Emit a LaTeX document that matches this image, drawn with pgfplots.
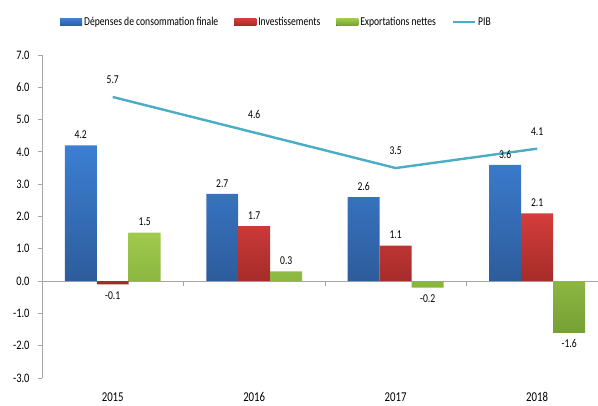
\documentclass[border=0pt]{standalone}
\usepackage{fontspec}
\setmainfont{Carlito}[FakeStretch=0.8]
\usepackage{pgfplots}
\pgfplotsset{compat=1.18}

\definecolor{bluetop}{HTML}{3C7FD3}
\definecolor{bluebot}{HTML}{2D5C9B}
\definecolor{redtop}{HTML}{D43D3A}
\definecolor{redbot}{HTML}{A22B29}
\definecolor{greentop}{HTML}{A0CB4C}
\definecolor{greenbot}{HTML}{76A035}
\definecolor{pib}{HTML}{4BACC6}
\definecolor{axgray}{HTML}{A6A6A6}

\begin{document}
\begin{tikzpicture}
\begin{axis}[
    scale only axis,
    width=556pt, height=323pt,
    at={(42pt,27pt)}, anchor=south west,
    xmin=-0.5, xmax=3.43,
    ymin=-3, ymax=7,
    axis y line*=left,
    axis x line*=bottom,
    x axis line style={draw=none},
    y axis line style={axgray, line width=0.8pt},
    ytick={-3,-2,...,7},
    xtick={0,1,2,3},
    xticklabels={2015,2016,2017,2018},
    xtick style={draw=none},
    ytick style={axgray, line width=0.8pt},
    tick align=outside,
    major tick length=4pt,
    /pgf/number format/assume math mode=true,
    yticklabel style={font=\fontsize{13}{15}\selectfont, xshift=-5pt, /pgf/number format/fixed, /pgf/number format/fixed zerofill, /pgf/number format/precision=1},
    xticklabel style={font=\fontsize{13.5}{15}\selectfont, text height=9pt, text depth=0pt, yshift=-7pt},
    clip=false,
    legend columns=4,
    legend style={draw=none, fill=none, at={(rel axis cs:0.027,1.102)}, anchor=west,
        font=\fontsize{12}{14}\selectfont,
        /tikz/every even column/.append style={column sep=14pt}},
    nodes near coords style={font=\fontsize{12}{14}\selectfont, black, text height=8pt, text depth=0pt,
        /pgf/number format/fixed, /pgf/number format/fixed zerofill, /pgf/number format/precision=1},
]
% zero line and category separators
\draw[axgray, line width=0.8pt] (axis cs:-0.5,0) -- (axis cs:3.43,0);
\pgfplotsinvokeforeach{0.5,1.5,2.5}{
  \draw[axgray, line width=0.8pt] (axis cs:#1,0) -- ([yshift=-4.5pt]axis cs:#1,0);
}

\addplot[ybar, bar width=0.226, bar shift=-0.226, draw=none,
    top color=bluetop, bottom color=bluebot,
    nodes near coords, nodes near coords align=vertical,
    every node near coord/.append style={inner sep=6.5pt, xshift=-32pt},
    legend image code/.code={\fill[top color=bluetop, bottom color=bluebot] (0pt,-3.5pt) rectangle (22pt,3.5pt);}]
  coordinates {(0,4.2) (1,2.7) (2,2.6) (3,3.6)};
\addlegendentry{Dépenses de consommation finale}

\addplot[ybar, bar width=0.226, bar shift=0, draw=none,
    top color=redtop, bottom color=redbot,
    nodes near coords, nodes near coords align=vertical,
    every node near coord/.append style={inner sep=6.5pt},
    legend image code/.code={\fill[top color=redtop, bottom color=redbot] (0pt,-3.5pt) rectangle (22pt,3.5pt);}]
  coordinates {(0,-0.1) (1,1.7) (2,1.1) (3,2.1)};
\addlegendentry{Investissements}

\addplot[ybar, bar width=0.226, bar shift=0.226, draw=none,
    top color=greentop, bottom color=greenbot,
    nodes near coords, nodes near coords align=vertical,
    every node near coord/.append style={inner sep=6.5pt, xshift=32pt},
    legend image code/.code={\fill[top color=greentop, bottom color=greenbot] (0pt,-3.5pt) rectangle (22pt,3.5pt);}]
  coordinates {(0,1.5) (1,0.3) (2,-0.2) (3,-1.6)};
\addlegendentry{Exportations nettes}

\addplot[pib, line width=2.4pt, mark=none,
    nodes near coords,
    every node near coord/.append style={anchor=south, yshift=9pt},
    legend image code/.code={\draw[pib, line width=2.4pt] (0pt,0pt) -- (22pt,0pt);}]
  coordinates {(0,5.7) (1,4.6) (2,3.5) (3,4.1)};
\addlegendentry{PIB}
\end{axis}
\pgfresetboundingbox
\path[use as bounding box] (0,0) rectangle (598pt,405pt);
\end{tikzpicture}
\end{document}
